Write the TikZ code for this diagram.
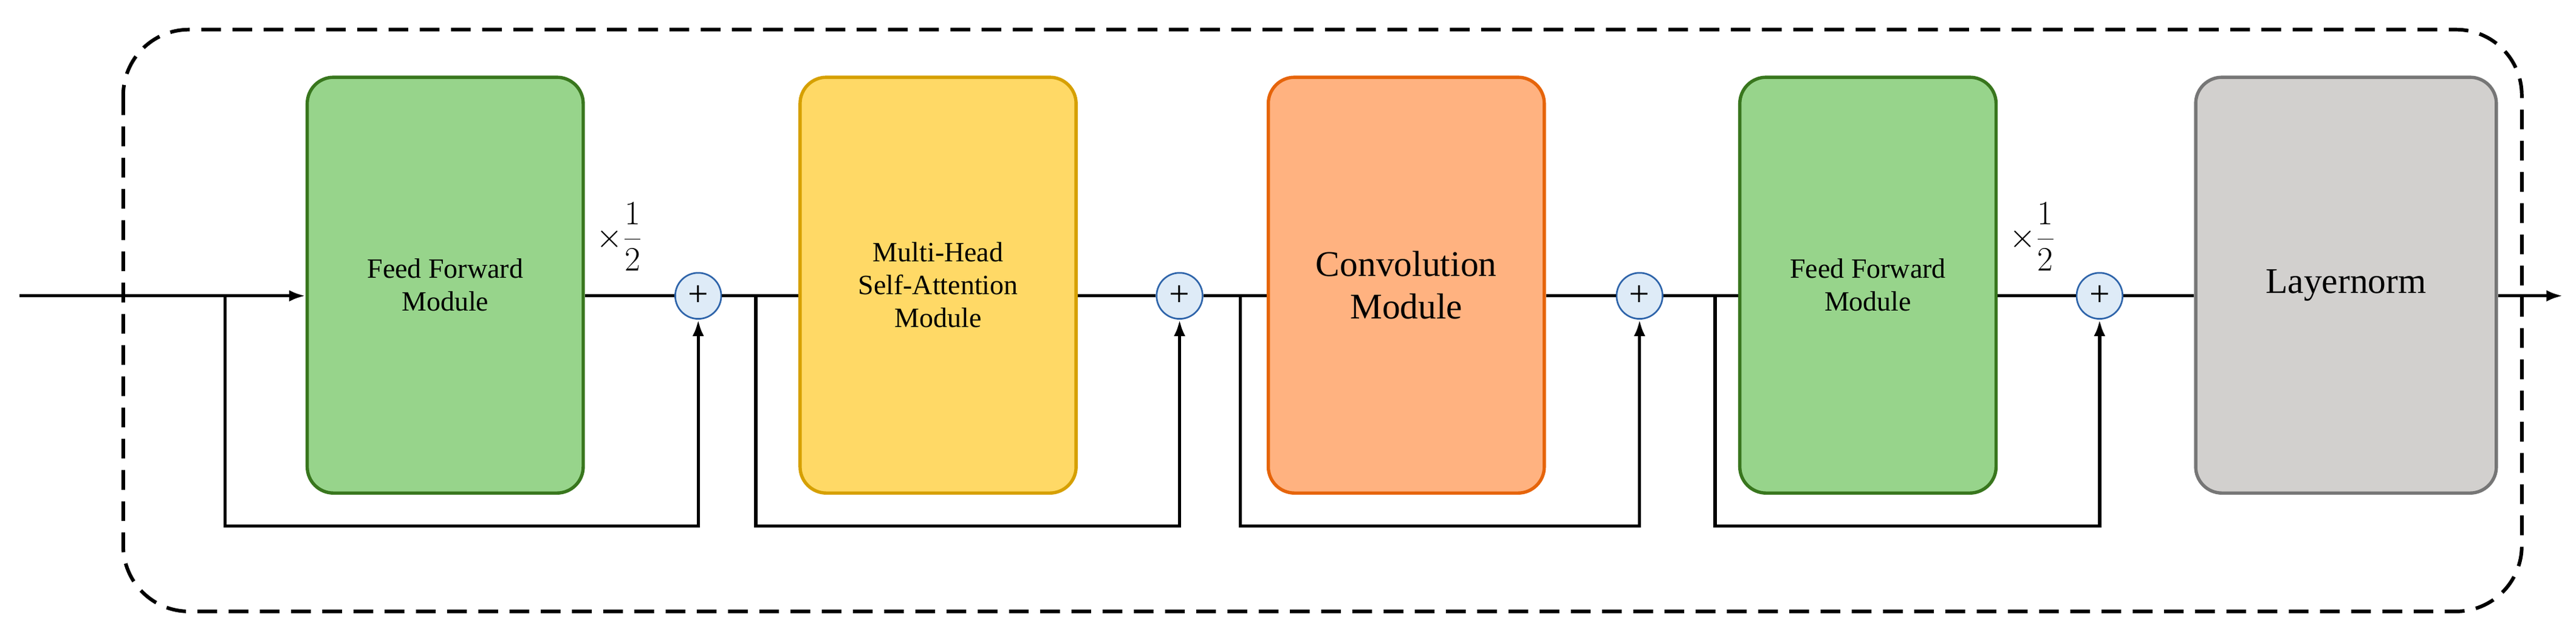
\documentclass[tikz,border=0pt]{standalone}
\usepackage{fontspec}
\setmainfont{Liberation Serif}
\usetikzlibrary{arrows.meta}
\definecolor{ffF}{RGB}{151,212,139}\definecolor{ffD}{RGB}{56,118,29}
\definecolor{yeF}{RGB}{255,217,102}\definecolor{yeD}{RGB}{214,160,0}
\definecolor{orF}{RGB}{255,178,128}\definecolor{orD}{RGB}{230,100,10}
\definecolor{grF}{RGB}{210,208,206}\definecolor{grD}{RGB}{118,118,118}
\definecolor{plF}{RGB}{222,235,247}\definecolor{plD}{RGB}{46,100,170}
\begin{document}
\begin{tikzpicture}[x=1pt,y=-1pt,
 blk/.style={draw=#1,line width=2pt,rounded corners=16pt,minimum width=168pt,minimum height=253pt,align=center,font=\fontsize{17}{20}\selectfont},
 pl/.style={circle,draw=plD,fill=plF,line width=1pt,minimum size=28pt,inner sep=0pt,font=\fontsize{22}{22}\selectfont},
 ln/.style={line width=2pt},
 half/.style={font=\fontsize{22}{22}\selectfont},
 ar/.style={ln,-{Latex[length=10pt,width=7pt]}}]
\useasboundingbox (0,0) rectangle (1568,389.4);
\draw[line width=2.2pt,dash pattern=on 12pt off 7pt,rounded corners=40pt] (75,18) rectangle (1535,372);
\node[blk=ffD,fill=ffF] (f1) at (271,173.5) {Feed Forward\\Module};
\node[blk=yeD,fill=yeF] (m) at (571,173.5) {Multi-Head\\Self-Attention\\Module};
\node[blk=orD,fill=orF,font=\fontsize{22}{26}\selectfont] (c) at (856,173.5) {Convolution\\Module};
\node[blk=ffD,fill=ffF,minimum width=156pt] (f2) at (1137,173.5) {Feed Forward\\Module};
\node[blk=grD,fill=grF,minimum width=183pt,font=\fontsize{22}{26}\selectfont] (l) at (1428,173.5) {Layernorm};
\node[pl] (p1) at (425,180) {+};
\node[pl] (p2) at (718,180) {+};
\node[pl] (p3) at (998,180) {+};
\node[pl] (p4) at (1278,180) {+};
\coordinate (in) at (12,180);
\coordinate (out) at (1560,180);
\draw[ar] (in) -- (f1.west|-in);
\draw[ln] (f1.east|-in) -- (p1);
\draw[ln] (p1) -- (m.west|-in);
\draw[ln] (m.east|-in) -- (p2);
\draw[ln] (p2) -- (c.west|-in);
\draw[ln] (c.east|-in) -- (p3);
\draw[ln] (p3) -- (f2.west|-in);
\draw[ln] (f2.east|-in) -- (p4);
\draw[ln] (p4) -- (l.west|-in);
\draw[ar] (l.east|-in) -- (out);
\draw[ar] (137,180) -- (137,320) -- (425,320) -- (p1.south);
\draw[ar] (460,180) -- (460,320) -- (718,320) -- (p2.south);
\draw[ar] (755,180) -- (755,320) -- (998,320) -- (p3.south);
\draw[ar] (1044,180) -- (1044,320) -- (1278,320) -- (p4.south);
\node[half] (h1) at (377,144) {$\times\displaystyle\frac{1}{2}$};
\node[half] (h2) at (1237,144) {$\times\displaystyle\frac{1}{2}$};
\end{tikzpicture}
\end{document}
